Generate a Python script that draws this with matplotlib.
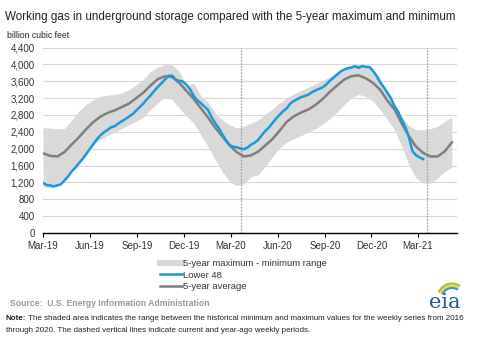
import numpy as np
import pandas as pd
import matplotlib
matplotlib.use("Agg")
import matplotlib.pyplot as plt
from matplotlib.lines import Line2D
from matplotlib.patches import Arc

plt.rcParams['font.family'] = ['Liberation Sans', 'DejaVu Sans']

# weekly Lower 48 working gas, bcf, from week ending 2019-03-01
lower48 = [1186, 1139, 1130, 1107, 1130, 1155, 1247, 1339, 1462, 1547, 1653, 1753,
           1867, 1986, 2105, 2220, 2318, 2390, 2446, 2509, 2533, 2598, 2653, 2702,
           2762, 2822, 2906, 2990, 3074, 3176, 3263, 3369, 3464, 3551, 3640, 3729,
           3732, 3638, 3610, 3591, 3518, 3411, 3250, 3150,
           3080, 3000, 2920, 2747, 2606, 2491, 2341, 2198, 2091, 2043, 2034, 2005,
           1986, 2024, 2097, 2140, 2210, 2319, 2422, 2503, 2612, 2714, 2807, 2892,
           2960, 3077, 3133, 3178, 3223, 3249, 3282, 3340, 3384, 3420, 3455, 3525,
           3614, 3684, 3757, 3833, 3878, 3908, 3926, 3955, 3919, 3958, 3940, 3939,
           3847, 3725, 3573, 3460,
           3330, 3196, 3009, 2881, 2689, 2518, 2281, 1943, 1845, 1793, 1754]

# two-week grid for the 5-year average and max/min range
avg5 = [1890, 1830, 1815, 1920, 2100, 2270, 2460, 2630, 2760, 2850, 2910, 2990,
        3070, 3200, 3330, 3500, 3650, 3720, 3700, 3560, 3370, 3180, 2960, 2740,
        2500, 2290, 2080, 1920, 1815, 1840, 1930, 2080, 2230, 2430, 2640, 2770,
        2860, 2930, 3040, 3180, 3350, 3500, 3640, 3720, 3740, 3670, 3560, 3400,
        3140, 2930, 2600, 2300, 2050, 1900, 1815, 1815, 1935, 2150]
rng_max = [2500, 2490, 2470, 2480, 2690, 2890, 3050, 3165, 3245, 3270, 3285, 3325,
           3400, 3520, 3640, 3840, 3935, 4000, 3985, 3840, 3480, 3560, 3250, 3100,
           2850, 2680, 2570, 2490, 2530, 2610, 2680, 2820, 2940, 3090, 3210, 3300,
           3380, 3460, 3540, 3620, 3710, 3820, 3920, 3980, 4010, 3960, 3880, 3680,
           3300, 3050, 2770, 2550, 2450, 2450, 2475, 2530, 2650, 2745]
rng_min = [1100, 1070, 1100, 1250, 1450, 1650, 1870, 2080, 2230, 2310, 2390, 2480,
           2570, 2650, 2750, 2930, 3085, 3220, 3165, 2965, 2770, 2610, 2330, 2055,
           1740, 1460, 1220, 1125, 1160, 1340, 1380, 1580, 1815, 2015, 2160, 2235,
           2310, 2395, 2475, 2585, 2715, 2870, 3045, 3205, 3285, 3245, 3125, 2930,
           2690, 2450, 2055, 1620, 1300, 1185, 1185, 1300, 1460, 1555]

ticks = ['2019-03-01', '2019-06-01', '2019-09-01', '2019-12-01', '2020-03-01',
         '2020-06-01', '2020-09-01', '2020-12-01', '2021-03-01']
tick_labels = ['Mar-19', 'Jun-19', 'Sep-19', 'Dec-19', 'Mar-20',
               'Jun-20', 'Sep-20', 'Dec-20', 'Mar-21']
vlines = ['2020-03-21', '2021-03-19']

wk = pd.date_range('2019-03-01', periods=len(lower48), freq='7D')
bw = pd.date_range('2019-03-01', periods=len(avg5), freq='14D')

fig = plt.figure(figsize=(4.86, 3.51), dpi=100)
ax = fig.add_axes([43/486, 1-233/351, 414/486, 185.5/351])

ax.fill_between(bw, rng_min, rng_max, color='#d9d9d9', lw=0, zorder=1)
ax.plot(bw, avg5, color='#7f7f7f', lw=1.8, zorder=3)
ax.plot(wk, lower48, color='#1a9ad6', lw=1.8, zorder=4)
for d in vlines:
    ax.axvline(pd.Timestamp(d), color='#a6a6a6', lw=0.9, ls=(0, (1.5, 1)), zorder=2)

ax.set_ylim(0, 4400)
ax.set_yticks(np.arange(0, 4401, 400))
ax.set_yticklabels([f'{v:,}' for v in range(0, 4401, 400)])
ax.set_xlim(pd.Timestamp('2019-03-01'), pd.Timestamp('2021-05-17'))
ax.set_xticks([pd.Timestamp(t) for t in ticks])
ax.set_xticklabels(tick_labels)
ax.grid(axis='y', color='#d9d9d9', lw=0.8, zorder=0)
ax.set_axisbelow(True)
for s in ['top', 'right', 'left']:
    ax.spines[s].set_visible(False)
ax.spines['bottom'].set_linewidth(1.0)
ax.tick_params(axis='y', length=0, labelsize=7, colors='#333333', pad=6)
ax.tick_params(axis='x', length=3, width=0.8, direction='out', labelsize=7,
               labelcolor='#333333', pad=3)

fig.text(5/486, 1-17/351, 'Working gas in underground storage compared with the 5-year maximum and minimum',
         fontsize=8.4, color='#222222', va='center')
fig.text(7/486, 1-36/351, 'billion cubic feet', fontsize=6.2, color='#222222', va='center')

handles = [Line2D([], [], color='#d9d9d9', lw=4.5),
           Line2D([], [], color='#1a9ad6', lw=1.8),
           Line2D([], [], color='#7f7f7f', lw=1.8)]
fig.legend(handles, ['5-year maximum - minimum range', 'Lower 48', '5-year average'],
           loc='upper left', bbox_to_anchor=(160/486, 1-259/351), frameon=False,
           fontsize=6.8, handlelength=2.3, handletextpad=0.1, labelspacing=0.28,
           borderaxespad=0, borderpad=0, labelcolor='#333333')

fig.text(10/486, 1-304/351, 'Source:  U.S. Energy Information Administration',
         fontsize=6.2, color='#999999', fontweight='bold', va='center')
note_lbl = fig.text(6/486, 1-319/351, 'Note:', fontsize=5.8, color='#222222',
                    fontweight='bold', va='center')
r = fig.canvas.get_renderer()
x_end = note_lbl.get_window_extent(r).x1
fig.text((x_end + 2) / fig.bbox.width, 1-319/351,
         'The shaded area indicates the range between the historical minimum and maximum values for the weekly series from 2016',
         fontsize=5.8, color='#222222', va='center')
fig.text(6/486, 1-331/351,
         'through 2020. The dashed vertical lines indicate current and year-ago weekly periods.',
         fontsize=5.8, color='#222222', va='center')

# eia logo
fig.text(445/486, 1-302/351, 'eia', fontsize=15, family='DejaVu Serif', color='#1f5c8c',
         ha='center', va='center')
lax = fig.add_axes([430/486, 1-300/351, 34/486, 18/351])
lax.set_xlim(0, 34)
lax.set_ylim(0, 18)
lax.axis('off')
for rad, c in [(15, '#9bc53d'), (13, '#f4d03f'), (11, '#2e9fd8')]:
    lax.add_patch(Arc((22, 0), 2*rad, 2*rad*1.1, theta1=60, theta2=150, color=c, lw=1.6))

fig.savefig('out.png', dpi=100)
